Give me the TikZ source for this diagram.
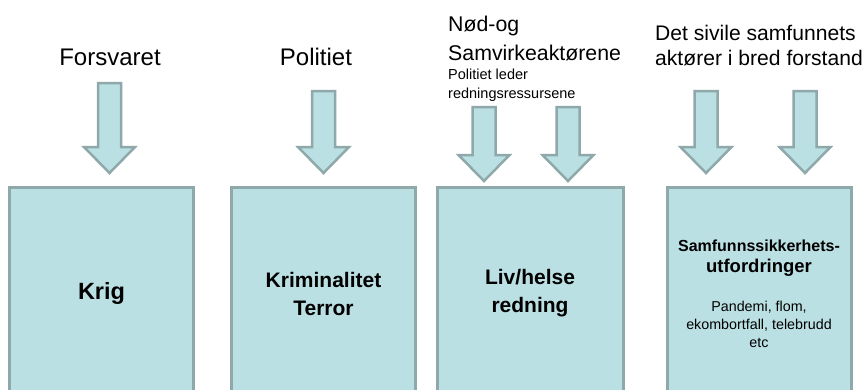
\documentclass[tikz,border=0pt]{standalone}
\usepackage{fontspec}
\setmainfont{Liberation Sans}
\usepackage{tikz}
\usetikzlibrary{positioning}

\definecolor{boxfill}{HTML}{BBE0E3}
\definecolor{boxline}{HTML}{8FA8AA}

\tikzset{
  areabox/.style={draw=boxline, fill=boxfill, line width=3pt, inner sep=0pt,
    minimum width=184pt, minimum height=213pt, align=center,
    font=\fontsize{21}{28}\selectfont\bfseries},
  blockarrow/.style={draw=boxline, fill=boxfill, line width=2.5pt, line join=miter},
  actor/.style={inner sep=0pt, font=\fontsize{24}{29}\selectfont}
}

\begin{document}
\begin{tikzpicture}[x=1pt, y=-1pt]
    \useasboundingbox (0,0) rectangle (866,389);
    \clip (0,0) rectangle (866,389);
    % the four areas
    \node (krig) [areabox, font=\fontsize{23.5}{28}\selectfont\bfseries] at (101.5,293.5) {Krig};
    \node (terror) [areabox] at (323.5,293.5) {Kriminalitet\\Terror};
    \node (redning) [areabox, minimum width=186pt] at (530,293.5) {Liv/helse\\redning};
    \node (samfunn) [areabox, font=\fontsize{14.3}{18}\selectfont] at (759,293.5)
      {{\fontsize{16}{19}\selectfont\bfseries Samfunnssikkerhets-}\\[3pt]
       {\fontsize{18.5}{22}\selectfont\bfseries utfordringer}\\[21pt]
       Pandemi, flom,\\ ekombortfall, telebrudd\\ etc};
    % actors
    \node (forsvaret) [actor] at (110,57) {Forsvaret};
    \node (politiet) [actor] at (316,57) {Politiet};
    \node (nodog) [actor, anchor=west, align=left, font=\fontsize{21.3}{28.5}\selectfont]
      at (448,38.5) {Nød-og\\Samvirkeaktørene};
    \node (leder) [actor, anchor=north west, align=left, font=\fontsize{14.5}{19}\selectfont]
      at (448,69) {Politiet leder\\redningsressursene};
    \node (sivile) [actor, anchor=west, align=left, font=\fontsize{21.1}{25.5}\selectfont]
      at (655,45.5) {Det sivile samfunnets\\aktører i bred forstand};
    % arrows down into the areas
    \foreach \x/\t/\b in {109.5/83/173, 323.5/91/173, 484/107/181,
                          568/107/181, 706/91/173, 805/91/173}
      \draw[blockarrow] (\x-11.5,\t) -- (\x+11.5,\t) -- (\x+11.5,\b-26)
        -- (\x+25.5,\b-26) -- (\x,\b) -- (\x-25.5,\b-26) -- (\x-11.5,\b-26) -- cycle;
\end{tikzpicture}
\end{document}
